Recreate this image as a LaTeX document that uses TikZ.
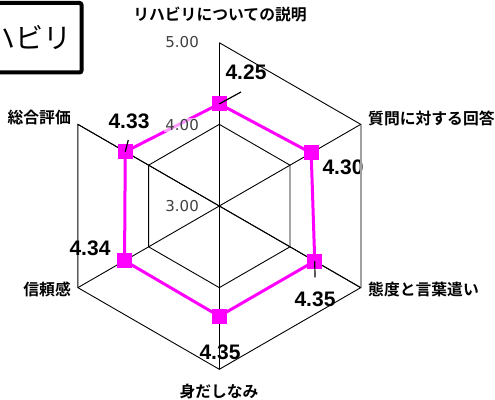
\documentclass[tikz,border=0pt]{standalone}
\usepackage{fontspec}
\setmainfont{Liberation Sans}
\newfontfamily\jp{Noto Sans CJK JP}
\newfontfamily\jpb{Noto Sans CJK JP Bold}
\newfontfamily\dv{DejaVu Sans}
\usetikzlibrary{calc}
\definecolor{mag}{RGB}{255,0,255}
\definecolor{scgray}{RGB}{64,64,64}
\begin{document}
\begin{tikzpicture}[x=1pt,y=1pt,
  gridline/.style={black, line width=0.9pt},
  series/.style={draw=mag, line width=3pt, line join=round},
  mk/.style={rectangle, fill=mag, minimum size=15pt, inner sep=0pt},
  val/.style={font=\fontsize{21}{24}\selectfont\bfseries, inner sep=0pt},
  ax/.style={font=\jpb\fontsize{15.8}{18}\selectfont, inner sep=0pt},
  sc/.style={font=\dv\fontsize{15}{18}\selectfont, text=scgray, inner sep=1pt, anchor=east, fill=white, fill opacity=0.6, text opacity=1},
  lead/.style={black, line width=1.2pt}]
\useasboundingbox (0,0) rectangle (495,399);
\clip (0,0) rectangle (495,399);
\coordinate (C) at (219.3,193);
\foreach \i/\a in {1/90,2/30,3/-30,4/-90,5/-150,6/150} {
  \coordinate (o\i) at ($(C)+(\a:163.3)$);
  \coordinate (i\i) at ($(C)+(\a:81.65)$);
}
\foreach \i/\a/\r in {1/90/102.1,2/30/106.1,3/-30/110.2,4/-90/110.2,5/-150/109.4,6/150/108.6} {
  \coordinate (p\i) at ($(C)+(\a:\r)$);
}
% data labels
\node[val] (v1) at (246,327) {4.25};
\node[val] (v2) at (343,232) {4.30};
\node[val] (v3) at (315,100) {4.35};
\node[val] (v4) at (220,47) {4.35};
\node[val] (v5) at (90,151) {4.34};
\node[val] (v6) at (129,278) {4.33};
% grid
\draw[gridline] (o1)--(o2) (o3)--(o4)--(o5)--(o6)--cycle;
\draw[gray!75, line width=1.6pt] (o2)--(o3);
\draw[gridline] (i1)--(i2)--(i3)--(i4)--(i5)--(i6)--cycle;
\foreach \i in {1,...,6} {\draw[gridline] (C)--(o\i);}
% series
\draw[series] (p1)--(p2)--(p3)--(p4)--(p5)--(p6)--cycle;
\foreach \i in {1,...,6} {\node[mk] (d\i) at (p\i) {};}
% leaders
\coordinate (l1) at (241,307);
\coordinate (l3) at (315,121.7);
\coordinate (l6) at (128.3,259);
\draw[lead] (d1.center)--(l1);
\draw[lead] (d3.center)--(l3);
\draw[lead] (d6.center)--(l6);
% scale labels
\node[sc] (s5) at (200,357) {5.00};
\node[sc] (s4) at (200,274) {4.00};
\node[sc] (s3) at (200,193) {3.00};
% axis labels
\node[ax] (a1) at (220,384) {リハビリについての説明};
\node[ax, anchor=west] (a2) at (368,281) {質問に対する回答};
\node[ax, anchor=west] (a3) at (368,110) {態度と言葉遣い};
\node[ax] (a4) at (219,8) {身だしなみ};
\node[ax, anchor=east] (a5) at (71,110) {信頼感};
\node[ax, anchor=east] (a6) at (71,281) {総合評価};
% title box
\draw[line width=4pt, rounded corners=2pt] (-20,396) rectangle (81.5,326.5);
\node[font=\jp\fontsize{28}{31}\selectfont, inner sep=0pt, anchor=east] (title) at (72,361) {リハビリ};
\end{tikzpicture}
\end{document}
